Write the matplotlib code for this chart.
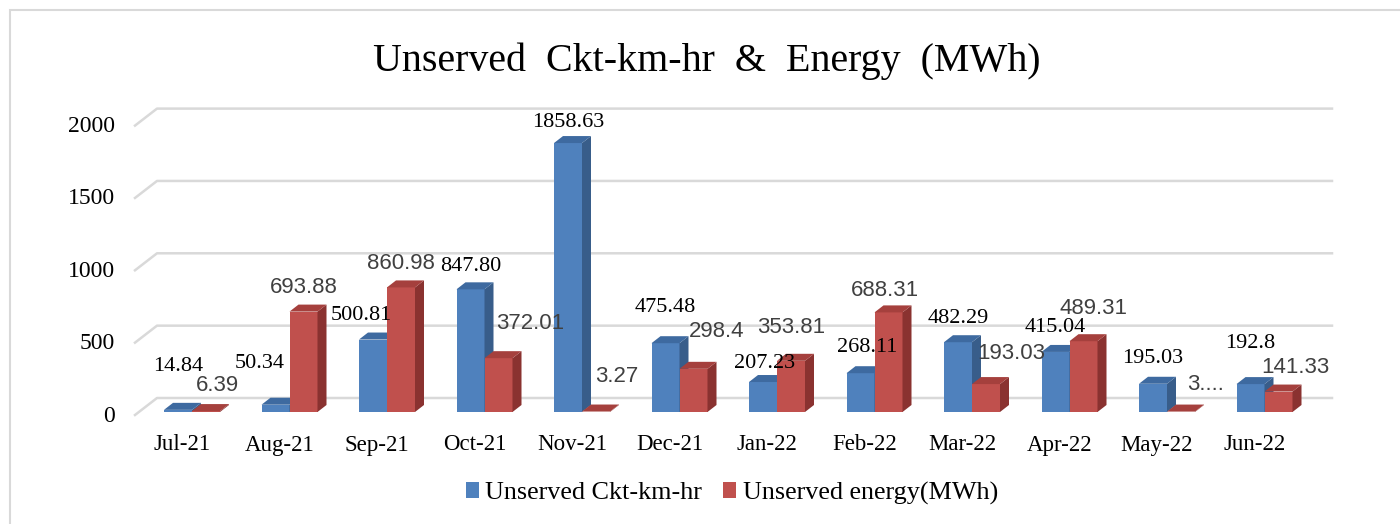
import matplotlib.pyplot as plt
from matplotlib.patches import Polygon, Rectangle, Patch

# data
months = ['Jul-21', 'Aug-21', 'Sep-21', 'Oct-21', 'Nov-21', 'Dec-21',
          'Jan-22', 'Feb-22', 'Mar-22', 'Apr-22', 'May-22', 'Jun-22']
ckt_km_hr = [14.84, 50.34, 500.81, 847.80, 1858.63, 475.48,
             207.23, 268.11, 482.29, 415.04, 195.03, 192.8]
energy_mwh = [6.39, 693.88, 860.98, 372.01, 3.27, 298.4,
              353.81, 688.31, 193.03, 489.31, 3.0, 141.33]
ckt_labels = ['14.84', '50.34', '500.81', '847.80', '1858.63', '475.48',
              '207.23', '268.11', '482.29', '415.04', '195.03', '192.8']
energy_labels = ['6.39', '693.88', '860.98', '372.01', '3.27', '298.4',
                 '353.81', '688.31', '193.03', '489.31', '3....', '141.33']
yticks = [0, 500, 1000, 1500, 2000]

# label nudges in pixels (dx, dy above bar top), like Excel placed them
ckt_off = [(0, 43), (-16, 41), (-12, 24), (0, 23), (0, 21), (0, 36),
           (2, 19), (7, 26), (0, 24), (0, 24), (0, 25), (0, 41)]
energy_off = [(11, 26), (0, 24), (0, 24), (32, 35), (21, 35), (23, 37),
              (0, 33), (-4, 22), (25, 31), (10, 33), (25, 27), (17, 24)]

W, H = 1400, 524
PX_CAT = 97.5      # pixels per category
PX_VAL = 0.1447    # pixels per unit
X0 = 192           # pixel x of first category centre
Y0 = 412           # pixel y of value 0 (front)
YMAX = 2200

blue, blue_side, blue_top = '#4F81BD', '#385D8A', '#3E6AA0'
red, red_side, red_top = '#C0504D', '#8A3230', '#A5403D'
serif = 'Liberation Serif'
sans = 'Liberation Sans'

fig = plt.figure(figsize=(W / 100, H / 100), dpi=100)
left_px, right_px = 100, 1350
ax = fig.add_axes([left_px / W, (H - Y0) / H, (right_px - left_px) / W, YMAX * PX_VAL / H])
ax.set_xlim((left_px - X0) / PX_CAT, (right_px - X0) / PX_CAT)
ax.set_ylim(0, YMAX)
ax.axis('off')

def px_x(p):
    return p / PX_CAT

def px_y(p):
    return p / PX_VAL

# back wall gridlines with the little diagonal at the left
x_front = px_x(135 - X0)
x_back = px_x(157 - X0)
x_end = px_x(1332 - X0)
for v in yticks:
    ax.plot([x_front, x_back, x_end], [v - px_y(3), v + px_y(14), v + px_y(14)],
            color='#D9D9D9', lw=1.8, clip_on=False, zorder=1)
    ax.text(px_x(115 - X0), v - px_y(4), str(v), ha='right', va='center',
            fontsize=17, family=serif, color='black')

bw = px_x(28)
ddx, ddy = px_x(9), px_y(7)

def bar3d(x0, v, front, side, top):
    x1 = x0 + bw
    ax.add_patch(Rectangle((x0, 0), bw, v, facecolor=front, edgecolor='none', zorder=3))
    ax.add_patch(Polygon([(x1, 0), (x1 + ddx, ddy), (x1 + ddx, v + ddy), (x1, v)],
                         closed=True, facecolor=side, edgecolor='none', zorder=3))
    ax.add_patch(Polygon([(x0, v), (x0 + ddx, v + ddy), (x1 + ddx, v + ddy), (x1, v)],
                         closed=True, facecolor=top, edgecolor='none', zorder=3))

for i, m in enumerate(months):
    bar3d(i - bw, ckt_km_hr[i], blue, blue_side, blue_top)
    bar3d(i, energy_mwh[i], red, red_side, red_top)

    dx, dy = ckt_off[i]
    ax.annotate(ckt_labels[i], xy=(i - bw / 2, ckt_km_hr[i]), xytext=(dx, dy),
                textcoords='offset pixels', ha='center', va='center',
                fontsize=16, family=serif, color='black', zorder=5)
    dx, dy = energy_off[i]
    ax.annotate(energy_labels[i], xy=(i + bw / 2, energy_mwh[i]), xytext=(dx, dy),
                textcoords='offset pixels', ha='center', va='center',
                fontsize=16, family=sans, color='#404040', zorder=5)

    ax.text(i - px_x(10), -px_y(33), m, ha='center', va='center',
            fontsize=16.5, family=serif, color='black')

fig.text(707 / W, 1 - 61 / H, 'Unserved  Ckt-km-hr  &  Energy  (MWh)',
         ha='center', va='center', fontsize=28.8, family=serif)

handles = [Patch(facecolor=blue, label='Unserved Ckt-km-hr'),
           Patch(facecolor=red, label='Unserved energy(MWh)')]
fig.legend(handles=handles, loc='center', bbox_to_anchor=(732 / W, 1 - 493 / H),
           ncol=2, frameon=False, prop={'family': serif, 'size': 18.8},
           handlelength=0.5, handleheight=0.6, handletextpad=0.25, columnspacing=0.8)

fig.patches.append(Rectangle((10 / W, -0.1), 1.2, 1.1 - 10 / H, transform=fig.transFigure,
                             fill=False, edgecolor='#D9D9D9', lw=1.5))

fig.savefig('out.png', dpi=100)
